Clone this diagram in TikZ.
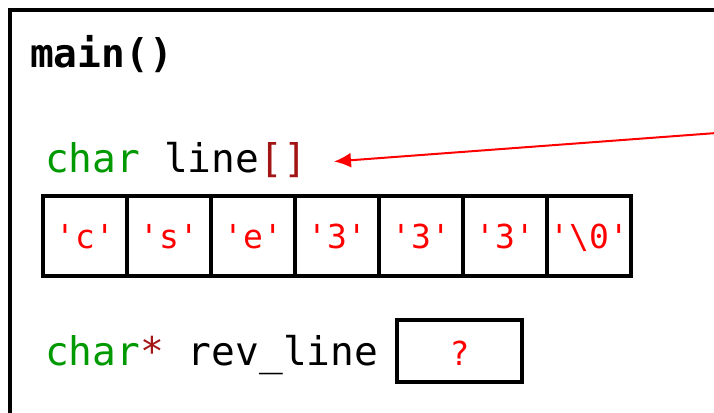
\documentclass[tikz,border=0pt]{standalone}
\usepackage{fontspec}
\usepackage{xcolor}
\usetikzlibrary{arrows.meta}
\setmonofont{DejaVu Sans Mono}
\definecolor{kwgreen}{RGB}{0,153,0}
\definecolor{symred}{RGB}{163,21,21}
\definecolor{valred}{RGB}{255,0,0}
\begin{document}
\begin{tikzpicture}[x=1pt,y=-1pt]
      \useasboundingbox(0,0) rectangle (714,412);
      \tikzset{T/.style = {anchor=base west, inner sep=0pt, font=\ttfamily\fontsize{39.5}{42}\selectfont}}
      \tikzset{C/.style = {shape=rectangle, draw, line width=4pt, minimum width=84pt, minimum height=80pt, inner sep=0pt, text=valred, text height=24pt, text depth=0pt, font=\ttfamily\fontsize{33}{36}\selectfont}}
      \tikzset{P/.style = {draw=valred, line width=2pt, -{Latex[length=17pt,width=15pt]}}}
      % frame of main()
      \draw[line width=4pt] (10,430) -- (10,10) -- (730,10);
      \node[T,font=\ttfamily\bfseries\fontsize{39.5}{42}\selectfont](fn) at (30,67) {main()};
      \node[T](decl) at (45,172) {\textcolor{kwgreen}{char} line\textcolor{symred}{[]}};
      \node[C](c0) at (85,236) {'c'};
      \node[C](c1) at (169,236) {'s'};
      \node[C](c2) at (253,236) {'e'};
      \node[C](c3) at (337,236) {'3'};
      \node[C](c4) at (421,236) {'3'};
      \node[C](c5) at (505,236) {'3'};
      \node[C](c6) at (589,236) {'\textbackslash0'};
      \node[T](ptr) at (45,365) {\textcolor{kwgreen}{char}\textcolor{symred}{*} rev\_line};
      \node[C,minimum width=125pt,minimum height=62pt,text height=28pt](val) at (459.5,351) {?};
      \coordinate (src) at (730,132);
      \draw[P](src) to ([xshift=27pt,yshift=-2pt]decl.east);
    \end{tikzpicture}
\end{document}
